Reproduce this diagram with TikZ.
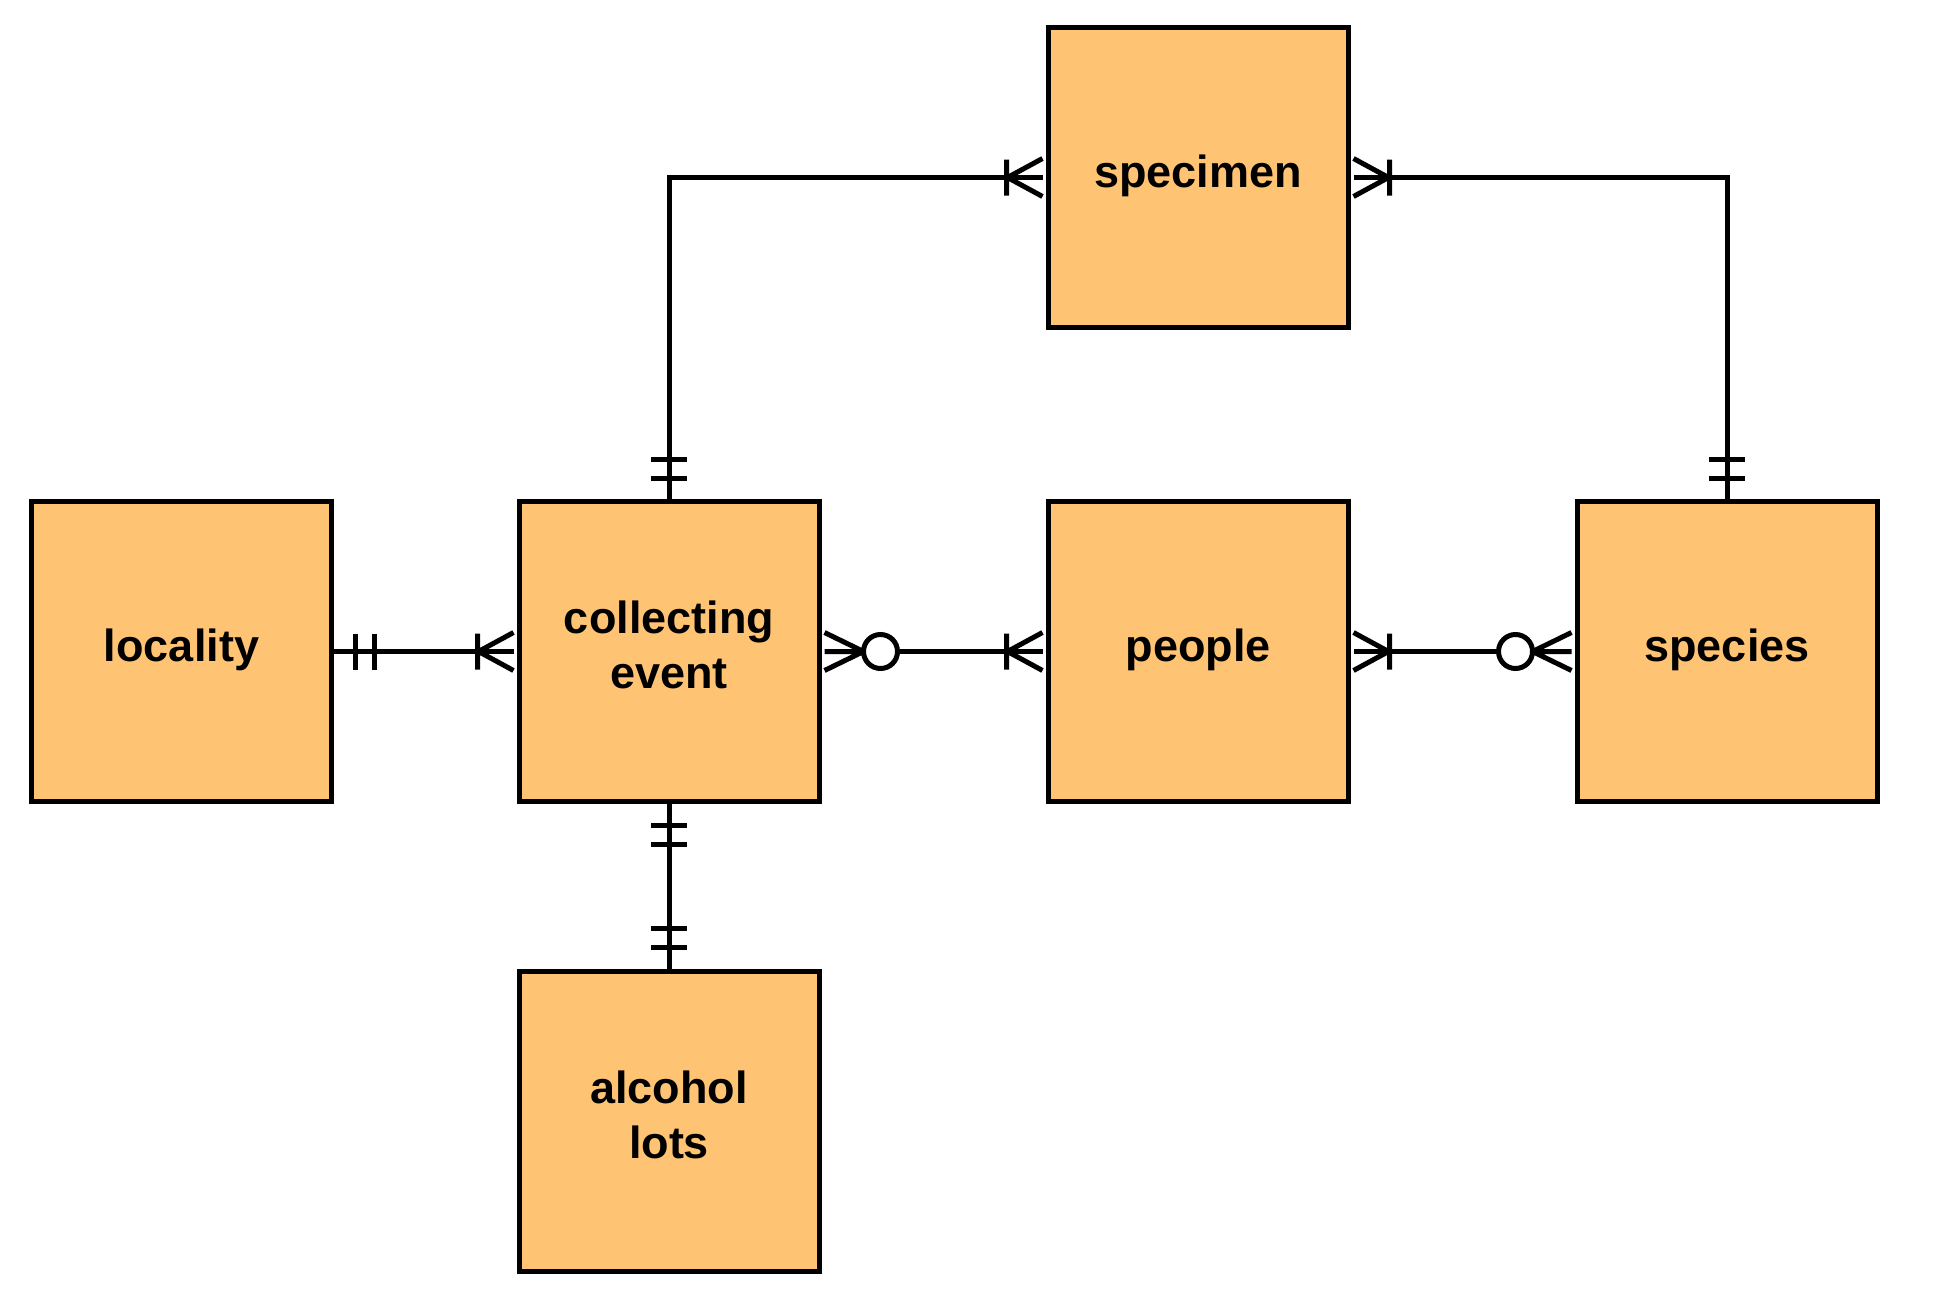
\documentclass[tikz,border=0pt]{standalone}
\usepackage{fontspec}
\setmainfont{Liberation Sans}
\definecolor{entityfill}{HTML}{FFC374}

% crow's foot ends
\pgfdeclarearrow{
  name = erOne,
  setup code = {
    \pgfarrowssettipend{0pt}
    \pgfarrowssetlineend{0pt}
    \pgfarrowssetbackend{-42pt}
    \pgfarrowssetvisualbackend{-42pt}
    \pgfarrowsupperhullpoint{0pt}{18pt}
    \pgfarrowsupperhullpoint{-42pt}{18pt}
  },
  drawing code = {
    \pgfpathmoveto{\pgfpoint{-21pt}{-18pt}}
    \pgfpathlineto{\pgfpoint{-21pt}{18pt}}
    \pgfpathmoveto{\pgfpoint{-40pt}{-18pt}}
    \pgfpathlineto{\pgfpoint{-40pt}{18pt}}
    \pgfusepathqstroke
  }
}
\pgfdeclarearrow{
  name = erMany,
  setup code = {
    \pgfarrowssettipend{0pt}
    \pgfarrowssetlineend{-3pt}
    \pgfarrowssetbackend{-42pt}
    \pgfarrowssetvisualbackend{-42pt}
    \pgfarrowsupperhullpoint{0pt}{19pt}
    \pgfarrowsupperhullpoint{-42pt}{19pt}
  },
  drawing code = {
    \pgfpathmoveto{\pgfpoint{-3pt}{19pt}}
    \pgfpathlineto{\pgfpoint{-38pt}{0pt}}
    \pgfpathlineto{\pgfpoint{-3pt}{-19pt}}
    \pgfpathmoveto{\pgfpoint{-39pt}{-18pt}}
    \pgfpathlineto{\pgfpoint{-39pt}{18pt}}
    \pgfusepathqstroke
  }
}
\pgfdeclarearrow{
  name = erZeroMany,
  setup code = {
    \pgfarrowssettipend{0pt}
    \pgfarrowssetlineend{-76pt}
    \pgfarrowssetbackend{-78pt}
    \pgfarrowssetvisualbackend{-78pt}
    \pgfarrowsupperhullpoint{0pt}{19pt}
    \pgfarrowsupperhullpoint{-78pt}{19pt}
  },
  drawing code = {
    \pgfpathmoveto{\pgfpoint{-3pt}{19pt}}
    \pgfpathlineto{\pgfpoint{-42pt}{0pt}}
    \pgfpathlineto{\pgfpoint{-3pt}{-19pt}}
    \pgfpathmoveto{\pgfpoint{-3pt}{0pt}}
    \pgfpathlineto{\pgfpoint{-42pt}{0pt}}
    \pgfusepathqstroke
    \pgfpathcircle{\pgfpoint{-59pt}{0pt}}{17pt}
    \pgfsetfillcolor{white}
    \pgfusepathqfillstroke
  }
}

\begin{document}
\begin{tikzpicture}[x=1pt, y=-1pt, line width=5pt,
  entity/.style={rectangle, draw, fill=entityfill, minimum width=300pt, minimum height=300pt, text depth=13pt, align=center, font=\fontsize{45}{55}\selectfont\bfseries}]
	\useasboundingbox (0,0) rectangle (1934,1303);
	\node[entity] (locality) at (181.5, 651.5) {locality};
	\node[entity] (collect) at (669, 651.5) {collecting\\event};
	\node[entity] (people) at (1198, 651.5) {people};
	\node[entity] (species) at (1727, 651.5) {species};
	\node[entity] (specimen) at (1198, 177.5) {specimen};
	\node[entity] (alcohol) at (669, 1121) {alcohol\\lots};
	\draw[erOne-erMany] (locality) -- (collect);
	\draw[erZeroMany-erMany] (collect) -- (people);
	\draw[erMany-erZeroMany] (people) -- (species);
	\draw[erOne-erOne] (collect) -- (alcohol);
	\draw[erOne-erMany] (collect.north) |- (specimen.west);
	\draw[erMany-erOne] (specimen.east) -| (species.north);
\end{tikzpicture}
\end{document}
